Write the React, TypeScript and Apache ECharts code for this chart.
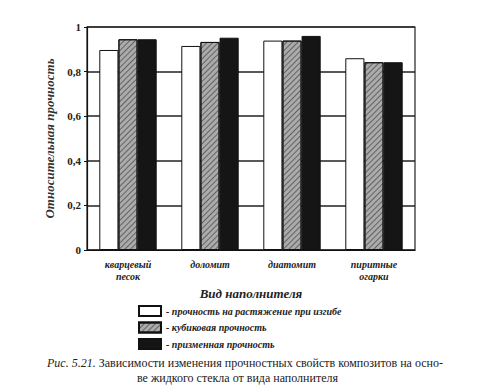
import React, { useEffect, useRef } from "react";
import * as echarts from "echarts";

const categories = ["кварцевый\nпесок", "доломит", "диатомит", "пиритные\nогарки"];
const seriesNames = [
  "прочность на растяжение при изгибе",
  "кубиковая прочность",
  "призменная прочность",
];
const bendStrength = [0.897, 0.915, 0.939, 0.86];
const cubeStrength = [0.945, 0.933, 0.939, 0.842];
const prismStrength = [0.945, 0.952, 0.96, 0.842];
const yTicks = [0, 0.2, 0.4, 0.6, 0.8, 1];

const FONT = "'Liberation Serif', 'DejaVu Serif', serif";

export default function App() {
  const ref = useRef<HTMLDivElement>(null);
  useEffect(() => {
    if (!ref.current) return;
    const chart = echarts.init(ref.current, null, { renderer: "svg" });
    const border = { borderColor: "#111", borderWidth: 1 };
    chart.setOption({
      animation: false,
      backgroundColor: "#fff",
      textStyle: { fontFamily: FONT },
      grid: {
        left: 87,
        top: 27,
        width: 328,
        height: 223,
        show: true,
        borderColor: "#222",
        borderWidth: 1.2,
        backgroundColor: "transparent",
      },
      xAxis: {
        type: "category",
        data: categories,
        axisLine: { show: true, lineStyle: { color: "#111", width: 1.2 } },
        axisTick: { show: false },
        axisLabel: {
          fontFamily: FONT,
          fontStyle: "italic",
          fontWeight: "bold",
          fontSize: 10,
          color: "#222",
          margin: 8,
          lineHeight: 12,
        },
        name: "Вид наполнителя",
        nameLocation: "middle",
        nameGap: 36,
        nameTextStyle: {
          fontFamily: FONT,
          fontStyle: "italic",
          fontWeight: "bold",
          fontSize: 13,
          color: "#222",
        },
      },
      yAxis: {
        type: "value",
        min: yTicks[0],
        max: yTicks[yTicks.length - 1],
        interval: 0.2,
        axisLine: { show: true, lineStyle: { color: "#111", width: 1.2 } },
        axisTick: { show: true, length: 3, lineStyle: { color: "#111" } },
        splitLine: { show: true, lineStyle: { color: "#222", width: 1.5 } },
        axisLabel: {
          fontFamily: FONT,
          fontWeight: "bold",
          fontSize: 11,
          color: "#222",
          margin: 6,
          formatter: (v: number) => String(Math.round(v * 10) / 10).replace(".", ","),
        },
        name: "Относительная прочность",
        nameLocation: "middle",
        nameGap: 30,
        nameTextStyle: {
          fontFamily: FONT,
          fontStyle: "italic",
          fontWeight: "bold",
          fontSize: 13,
          color: "#333",
        },
      },
      legend: {
        orient: "vertical",
        left: 138,
        top: 305,
        padding: 0,
        itemWidth: 22,
        itemHeight: 10,
        itemGap: 4.5,
        icon: "rect",
        data: seriesNames,
        formatter: (name: string) => "- " + name,
        textStyle: {
          fontFamily: FONT,
          fontStyle: "italic",
          fontWeight: "bold",
          fontSize: 10,
          lineHeight: 12,
          color: "#222",
        },
      },
      graphic: [
        {
          type: "text",
          left: 47,
          top: 357,
          style: {
            text: "{i|Рис. 5.21.} Зависимости изменения прочностных свойств композитов на осно-",
            fontFamily: FONT,
            fontSize: 12,
            fill: "#222",
            rich: {
              i: { fontFamily: FONT, fontStyle: "italic", fontSize: 12, fill: "#222" },
            },
          },
        },
        {
          type: "text",
          left: 137,
          top: 372,
          style: {
            text: "ве жидкого стекла от вида наполнителя",
            fontFamily: FONT,
            fontSize: 12,
            fill: "#222",
          },
        },
      ],
      series: [
        {
          name: seriesNames[0],
          type: "bar",
          data: bendStrength,
          barGap: "0%",
          barCategoryGap: "30%",
          itemStyle: { color: "#ffffff", ...border },
        },
        {
          name: seriesNames[1],
          type: "bar",
          data: cubeStrength,
          itemStyle: {
            color: "#ababab",
            ...border,
            decal: {
              symbol: "rect",
              color: "rgba(50,50,50,0.6)",
              dashArrayX: [1, 0],
              dashArrayY: [1, 3],
              rotation: -Math.PI / 4,
            },
          },
        },
        {
          name: seriesNames[2],
          type: "bar",
          data: prismStrength,
          itemStyle: { color: "#151515", ...border },
        },
      ],
    });
    return () => chart.dispose();
  }, []);
  return (
    <div
      ref={ref}
      style={{ position: "fixed", left: 0, top: 0, width: 479, height: 391 }}
    />
  );
}
